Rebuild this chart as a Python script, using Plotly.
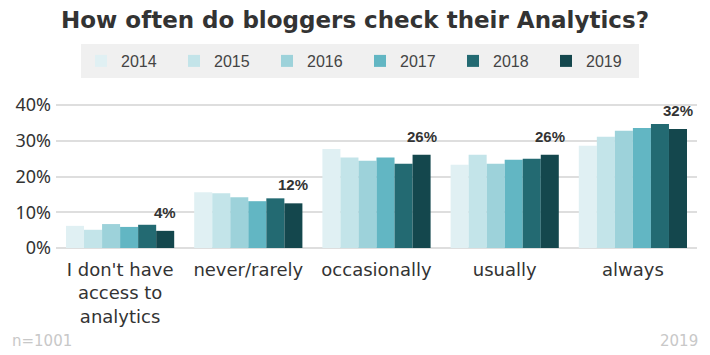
import plotly.graph_objects as go

categories = ["I don't have<br>access to<br>analytics", "never/rarely", "occasionally", "usually", "always"]
years = ["2014", "2015", "2016", "2017", "2018", "2019"]
v2014 = [6.2, 15.6, 27.7, 23.3, 28.6]
v2015 = [5.1, 15.3, 25.3, 26.1, 31.1]
v2016 = [6.7, 14.2, 24.4, 23.6, 32.8]
v2017 = [5.9, 13.1, 25.3, 24.7, 33.6]
v2018 = [6.5, 13.9, 23.6, 25.0, 34.7]
v2019 = [4.8, 12.5, 26.1, 26.1, 33.3]
labels2019 = ["4%", "12%", "26%", "26%", "32%"]
yticks = [0, 10, 20, 30, 40]
yticklabels = ["0%", "10%", "20%", "30%", "40%"]

series = [v2014, v2015, v2016, v2017, v2018, v2019]
colors = ["#e0f0f3", "#c3e4e9", "#9dd2da", "#62b6c3", "#236a72", "#14474d"]

W, H = 710, 355
OFF = 8  # page body margin offset
PLOT_LEFT, PLOT_RIGHT = 56 - OFF, 697 - OFF
PLOT_TOP, PLOT_BOTTOM = 104 - OFF, 248 - OFF
PW = PLOT_RIGHT - PLOT_LEFT
PH = PLOT_BOTTOM - PLOT_TOP
BARGAP = 0.156
bar_px = PW / len(categories) * (1 - BARGAP) / len(years)

fig = go.Figure()
for yr, vals, col in zip(years, series, colors):
    fig.add_trace(go.Bar(name=yr, x=categories, y=vals, marker=dict(color=col, line=dict(width=0)),
                         hoverinfo="skip"))

annotations = []
for cat, val, lab in zip(categories, v2019, labels2019):
    annotations.append(dict(x=cat, y=val, text="<b>%s</b>" % lab, xref="x", yref="y",
                            xshift=2.5 * bar_px, yshift=8, yanchor="bottom", xanchor="center",
                            showarrow=False,
                            font=dict(family="Liberation Sans", size=15, color="#333333")))
annotations += [
    dict(text="n=1001", xref="paper", yref="paper", x=(10 - OFF - PLOT_LEFT) / PW, xanchor="left",
         y=(PLOT_BOTTOM - (341 - OFF)) / PH, yanchor="middle", showarrow=False,
         font=dict(family="DejaVu Sans", size=15, color="#c8c8c8")),
    dict(text="2019", xref="paper", yref="paper", x=(700 - OFF - PLOT_LEFT) / PW, xanchor="right",
         y=(PLOT_BOTTOM - (341 - OFF)) / PH, yanchor="middle", showarrow=False,
         font=dict(family="DejaVu Sans", size=15, color="#c8c8c8")),
]

fig.update_layout(
    width=W, height=H,
    barmode="group", bargap=BARGAP, bargroupgap=0,
    plot_bgcolor="white", paper_bgcolor="white",
    margin=dict(l=PLOT_LEFT, r=W - PLOT_RIGHT, t=PLOT_TOP, b=H - PLOT_BOTTOM, autoexpand=False),
    title=dict(text="<b>How often do bloggers check their Analytics?</b>",
               font=dict(family="DejaVu Sans", size=23, color="#333333"),
               x=(355 - OFF) / W, xanchor="center", xref="container",
               y=1 - (20 - OFF) / H, yanchor="middle", yref="container"),
    legend=dict(orientation="h", xref="container", yref="container",
                x=(81 - OFF) / W, xanchor="left", y=1 - (44 - OFF) / H, yanchor="top",
                bgcolor="#f0f0f0", borderwidth=0,
                font=dict(family="Liberation Sans", size=16, color="#444444"),
                entrywidth=48, traceorder="normal"),
    showlegend=True,
    xaxis=dict(showgrid=False, showline=False, ticks="", automargin=False, ticklabelstandoff=9,
               tickfont=dict(family="DejaVu Sans", size=18, color="#333333")),
    yaxis=dict(range=[0, 40.3], tickvals=yticks, ticktext=yticklabels, automargin=False,
               showgrid=True, gridcolor="#dedede", gridwidth=2,
               zeroline=True, zerolinecolor="#dedede", zerolinewidth=2,
               showline=False, ticks="", ticklabelstandoff=4,
               tickfont=dict(family="Noto Sans", size=18, color="#333333")),
    annotations=annotations,
)

fig.write_html("out.html")
